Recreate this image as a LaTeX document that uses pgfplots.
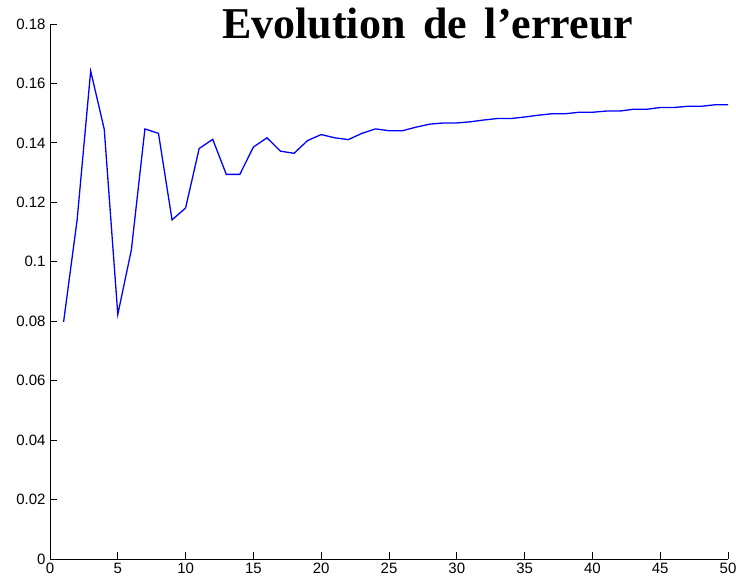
\documentclass[border=0pt]{standalone}
\usepackage{pgfplots}
\pgfplotsset{compat=1.18}
\usepackage{fontspec}
\setmainfont{Liberation Sans}
\newfontfamily\titlefont[WordSpace=1.6]{Liberation Serif}

\begin{document}
\begin{tikzpicture}
\begin{axis}[
  name=main,
  scale only axis,
  width=678bp, height=535bp,
  xmin=0, xmax=50, ymin=0, ymax=0.18,
  axis lines=left,
  axis line style={line width=0.9bp, -},
  xtick={0,5,...,50},
  ytick={0,0.02,...,0.18},
  tick align=inside,
  major tick length=7bp,
  tick style={black, line width=0.9bp},
  scaled y ticks=false,
  /pgf/number format/assume math mode=true,
  /pgf/number format/fixed,
  /pgf/number format/precision=2,
  ticklabel style={font=\fontsize{15bp}{18bp}\selectfont},
  xticklabel style={yshift=-1bp},
  yticklabel style={xshift=-1bp},
  clip=false,
]
\addplot[color={rgb,255:red,0;green,0;blue,255}, line width=1.3bp] coordinates {
(1,0.0797) (2,0.1141) (3,0.1642) (4,0.1446) (5,0.0823)
(6,0.1040) (7,0.1447) (8,0.1432) (9,0.1141) (10,0.1181)
(11,0.1381) (12,0.1412) (13,0.1294) (14,0.1294) (15,0.1386)
(16,0.1417) (17,0.1372) (18,0.1365) (19,0.1408) (20,0.1428)
(21,0.1417) (22,0.1411) (23,0.1432) (24,0.1447) (25,0.1441)
(26,0.1441) (27,0.1453) (28,0.1463) (29,0.1467) (30,0.1467)
(31,0.1471) (32,0.1477) (33,0.1482) (34,0.1482) (35,0.1487)
(36,0.1493) (37,0.1498) (38,0.1498) (39,0.1503) (40,0.1503)
(41,0.1507) (42,0.1507) (43,0.1513) (44,0.1513) (45,0.1519)
(46,0.1519) (47,0.1523) (48,0.1523) (49,0.1528) (50,0.1528)
};
\node[anchor=base, inner sep=0pt, font=\titlefont\bfseries\fontsize{44bp}{50bp}\selectfont]
  at (rel axis cs:0.557,0.972) {Evolution de l’erreur};
\end{axis}
\pgfresetboundingbox
\path (-50bp,-21bp) rectangle (686bp,559bp);
\end{tikzpicture}
\end{document}
